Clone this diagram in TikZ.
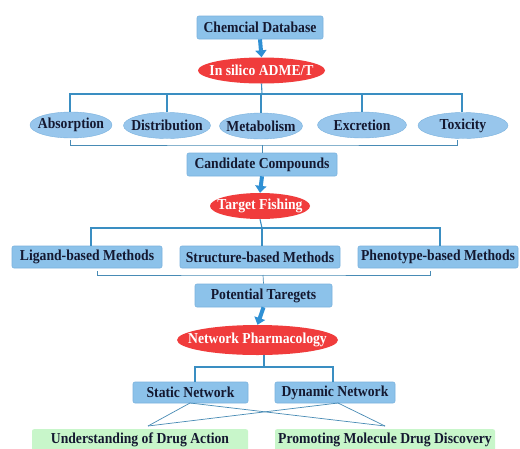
\documentclass[tikz,border=0pt]{standalone}
\usepackage{fontspec}
\setmainfont{Liberation Serif}[FakeStretch=0.9]
\usetikzlibrary{shapes.geometric,arrows.meta}
\definecolor{boxblue}{HTML}{8CC2EA}
\definecolor{boxedge}{HTML}{7AB2DE}
\definecolor{ellblue}{HTML}{98C6EC}
\definecolor{redell}{HTML}{F03C3C}
\definecolor{greenbox}{HTML}{C8F6CA}
\definecolor{linecol}{HTML}{3A8EC2}
\definecolor{arrowcol}{HTML}{2F90D4}
\definecolor{txt}{HTML}{141830}
\newcommand{\zw}[1]{\makebox[0pt]{#1}}
\begin{document}
\begin{tikzpicture}[x=1pt,y=-1pt,
  every node/.style={font=\fontsize{15.2}{16}\selectfont\bfseries, text=txt, inner sep=0pt},
  bluebox/.style={rectangle, rounded corners=2pt, fill=boxblue, draw=boxedge, line width=0.6pt, minimum height=23pt},
  blueell/.style={ellipse, fill=ellblue, draw=boxedge, line width=0.4pt, minimum height=26pt},
  redellipse/.style={ellipse, fill=redell, text=white, minimum height=26pt},
  greenrect/.style={rectangle, rounded corners=2pt, fill=greenbox, minimum height=34pt},
  conn/.style={draw=linecol, line width=1.1pt},
  thinconn/.style={draw=linecol!80!gray, line width=0.7pt},
  fatarrow/.style={draw=arrowcol, line width=4pt, -{Triangle[width=11pt,length=7pt]}}
]
\useasboundingbox (0,0) rectangle (520,448);
\clip (0,0) rectangle (520,448);
\fill[white] (0,0) rectangle (520,448);

% level 1
\node[bluebox, minimum width=126pt] (db) at (260,27.5) {\zw{Chemcial Database}};
\node[redellipse, minimum width=127pt] (adme) at (261.5,70.5) {\zw{In silico ADME/T}};
\draw[fatarrow] (db.south) -- (adme.north);

% ADME ellipses
\node[blueell, minimum width=82pt] (ab) at (71,125) {\zw{Absorption}};
\node[blueell, minimum width=87pt] (di) at (167,125.5) {\zw{Distribution}};
\node[blueell, minimum width=83pt] (me) at (261,126) {\zw{Metabolism}};
\node[blueell, minimum width=89pt] (ex) at (362,125) {\zw{Excretion}};
\node[blueell, minimum width=90pt] (tx) at (463,125.5) {\zw{Toxicity}};

\coordinate (bus1) at (262,94);
\draw[conn] (adme.south) -- (bus1);
\draw[conn] (ab.north -| 70,0) |- (bus1);
\draw[conn] (tx.north -| 462,0) |- (bus1);
\draw[conn] (di.north) -- (di.north |- bus1);
\draw[conn] (me.north) -- (me.north |- bus1);
\draw[conn] (ex.north) -- (ex.north |- bus1);

% candidate
\node[bluebox, minimum width=150pt] (cand) at (262,164.5) {\zw{Candidate Compounds}};
\coordinate (br1l) at (70,140);
\coordinate (br1r) at (457,140);
\coordinate (br1m) at (262,145);
\draw[thinconn] (br1l) |- (br1m) -| (br1r);
\draw[thinconn] (br1m) -- (cand.north);

\node[redellipse, minimum width=100pt] (tf) at (260,206) {\zw{Target Fishing}};
\draw[fatarrow] (cand.south) -- (tf.north);

% methods
\node[bluebox, minimum width=150pt, minimum height=22pt] (lig) at (87,257) {\zw{Ligand-based Methods}};
\node[bluebox, minimum width=160pt, minimum height=22pt] (str) at (260,257) {\zw{Structure-based Methods}};
\node[bluebox, minimum width=160pt, minimum height=22pt] (phe) at (438,257) {\zw{Phenotype-based Methods}};
\coordinate (bus2) at (262,228);
\draw[conn] (tf.south) -- (bus2);
\draw[conn] (lig.north -| 91,0) |- (bus2);
\draw[conn] (phe.north -| 440,0) |- (bus2);
\draw[conn] (str.north -| bus2) -- (bus2);

\node[bluebox, minimum width=137pt] (pot) at (263.5,295.5) {\zw{Potential Taregets}};
\coordinate (br2l) at (97,271);
\coordinate (br2r) at (430,271);
\coordinate (br2m) at (263,275);
\draw[thinconn] (br2l) |- (br2m) -| (br2r);
\draw[thinconn] (br2m) -- (pot.north);

\node[redellipse, minimum width=161pt, minimum height=30pt] (np) at (257.5,340) {\zw{Network Pharmacology}};
\draw[fatarrow] (pot.south) -- (np.north);

% networks
\node[bluebox, minimum width=115pt, minimum height=21pt] (sn) at (190.5,392.5) {\zw{Static Network}};
\node[bluebox, minimum width=120pt, minimum height=21pt] (dn) at (335,392.5) {\zw{Dynamic Network}};
\coordinate (bus3) at (264,367);
\draw[conn] (np.south -| bus3) -- (bus3);
\draw[conn] (sn.north -| 195,0) |- (bus3);
\draw[conn] (dn.north -| 333,0) |- (bus3);

% outcomes
\node[greenrect, minimum width=216pt, anchor=north] (und) at (140,429) {};
\node[greenrect, minimum width=220pt, anchor=north] (pro) at (385,429) {};
\node (undt) at (140,440) {Understanding of Drug Action};
\node (prot) at (385,440) {Promoting Molecule Drug Discovery};
\coordinate (sbot) at (190,403);
\coordinate (dbot) at (338,403);
\coordinate (utop) at (148,426);
\coordinate (ptop) at (385,426);
\draw[thinconn] (sbot) -- (utop);
\draw[thinconn] (sbot) -- (ptop);
\draw[thinconn] (dbot) -- (utop);
\draw[thinconn] (dbot) -- (ptop);
\end{tikzpicture}
\end{document}
